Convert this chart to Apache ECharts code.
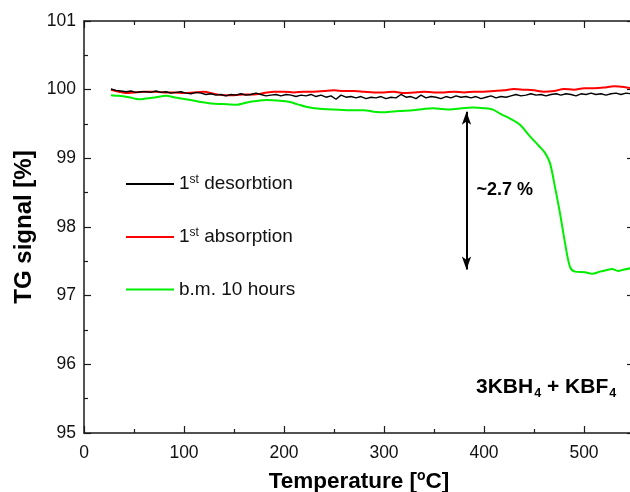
<!DOCTYPE html>
<html>
<head>
<meta charset="utf-8">
<script src="https://cdn.jsdelivr.net/npm/echarts@6/dist/echarts.min.js"></script>
<style>
  html, body { margin: 0; padding: 0; background: #fff; }
  #tg { width: 630px; height: 492px; }
</style>
</head>
<body>
<div id="tg"></div>
<script>
// ---- data ----
var xTicks = [0, 100, 200, 300, 400, 500];
var yTicks = [95, 96, 97, 98, 99, 100, 101];

var desorbT = [27, 32, 37, 42, 47, 52, 57, 62, 67, 72, 77, 82, 87, 92, 97, 102, 107, 112, 117, 122,
    127, 132, 137, 142, 147, 152, 157, 162, 167, 172, 177, 182, 187, 192, 197, 202, 207, 212, 217, 222,
    227, 232, 237, 242, 247, 252, 257, 262, 267, 272, 277, 282, 287, 292, 297, 302, 307, 312, 317, 322,
    327, 332, 337, 342, 347, 352, 357, 362, 367, 372, 377, 382, 387, 392, 397, 402, 407, 412, 417, 422,
    427, 432, 437, 442, 447, 452, 457, 462, 467, 472, 477, 482, 487, 492, 497, 502, 507, 512, 517, 522,
    527, 532, 537, 542, 547];
var desorbTG = [100.01, 99.99, 99.98, 99.97, 99.98, 99.96, 99.97, 99.97, 99.96, 99.98, 99.96, 99.97, 99.95, 99.96, 99.97, 99.95, 99.94, 99.96, 99.95, 99.93,
    99.94, 99.92, 99.93, 99.91, 99.93, 99.92, 99.94, 99.92, 99.93, 99.95, 99.93, 99.91, 99.92, 99.93, 99.91, 99.93, 99.92, 99.90, 99.92, 99.91,
    99.93, 99.90, 99.92, 99.89, 99.91, 99.86, 99.92, 99.89, 99.90, 99.88, 99.90, 99.87, 99.89, 99.88, 99.90, 99.87, 99.89, 99.88, 99.93, 99.89,
    99.90, 99.87, 99.92, 99.88, 99.90, 99.89, 99.87, 99.90, 99.88, 99.91, 99.89, 99.90, 99.88, 99.90, 99.87, 99.89, 99.91, 99.88, 99.90, 99.89,
    99.91, 99.93, 99.91, 99.92, 99.94, 99.92, 99.93, 99.91, 99.93, 99.94, 99.92, 99.94, 99.93, 99.91, 99.94, 99.93, 99.95, 99.93, 99.94, 99.92,
    99.94, 99.95, 99.93, 99.95, 99.94];

var absorbT = [27, 35, 42, 50, 60, 70, 80, 90, 100, 110, 120, 130, 140, 150, 160, 170, 180, 190, 200, 210,
    220, 230, 240, 250, 260, 270, 280, 290, 300, 310, 320, 330, 340, 350, 360, 370, 380, 390, 400, 410,
    420, 430, 440, 450, 460, 470, 480, 490, 500, 510, 520, 530, 540, 547];
var absorbTG = [100.00, 99.97, 99.95, 99.96, 99.97, 99.97, 99.96, 99.96, 99.95, 99.96, 99.97, 99.94, 99.92, 99.92, 99.93, 99.93, 99.95, 99.97, 99.97, 99.96,
    99.97, 99.97, 99.98, 99.99, 99.98, 99.98, 99.97, 99.96, 99.96, 99.97, 99.95, 99.96, 99.97, 99.96, 99.96, 99.97, 99.96, 99.97, 99.97, 99.98,
    99.99, 100.01, 100.00, 99.99, 99.97, 99.98, 100.01, 100.00, 100.02, 100.02, 100.03, 100.05, 100.04, 100.02];

var milledT = [27, 35, 45, 55, 62, 72, 82, 90, 97, 107, 117, 127, 139, 153, 162, 170, 183, 196, 206, 213,
    222, 230, 249, 266, 280, 290, 300, 315, 329, 340, 349, 358, 366, 378, 389, 400, 409, 416, 426, 436,
    446, 455, 461, 466, 471, 476, 481, 486, 491, 501, 508, 516, 522, 528, 534, 540, 547];
var milledTG = [99.92, 99.91, 99.89, 99.86, 99.87, 99.89, 99.91, 99.89, 99.87, 99.85, 99.82, 99.80, 99.79, 99.78, 99.81, 99.83, 99.85, 99.84, 99.82, 99.79,
    99.75, 99.73, 99.71, 99.70, 99.70, 99.68, 99.67, 99.69, 99.70, 99.72, 99.73, 99.72, 99.71, 99.73, 99.74, 99.73, 99.71, 99.65, 99.58, 99.49,
    99.32, 99.18, 99.08, 98.93, 98.58, 98.20, 97.77, 97.42, 97.35, 97.34, 97.32, 97.35, 97.37, 97.39, 97.36, 97.38, 97.40];

// mass-loss arrow (temperature, top, bottom) and its label
var arrowT = 382.5;
var arrowTop = 99.68;
var arrowBottom = 97.38;
var lossLabel = '~2.7 %';

function pairs(xs, ys) {
    return xs.map(function (x, i) { return [x, ys[i]]; });
}

var FONT = '"Liberation Sans", Arial, sans-serif';
var AX = '#1a1a1a';

// fresh tick/line settings for each axis (ticks point into the frame)
function frame(extra) {
    return Object.assign({
        axisLine: { show: true, onZero: false, lineStyle: { color: AX, width: 1.5 } },
        axisTick: { show: true, inside: true, length: 7, lineStyle: { color: AX, width: 1.2 } },
        minorTick: { show: true, splitNumber: 2, length: 4, lineStyle: { color: AX, width: 1.2 } },
        splitLine: { show: false },
        minorSplitLine: { show: false }
    }, extra);
}

var dom = document.getElementById('tg');
var myChart = echarts.init(dom, null, { renderer: 'canvas' });

var option = {
    backgroundColor: '#FFFFFF',
    animation: false,
    grid: { left: 84, top: 21, right: -4, bottom: 59, containLabel: false, outerBoundsMode: 'none' },
    legend: {
        orient: 'vertical',
        left: 126,
        top: 174,
        padding: 0,
        icon: 'rect',
        itemWidth: 48,
        itemHeight: 2,
        itemGap: 32,
        data: ['desorb', 'absorb', 'milled'],
        formatter: function (name) {
            if (name === 'desorb') return '{n|1}{s|st}{n| desorbtion}';
            if (name === 'absorb') return '{n|1}{s|st}{n| absorption}';
            return '{n|b.m. 10 hours}';
        },
        textStyle: {
            fontFamily: FONT,
            rich: {
                n: { fontSize: 19, fontFamily: FONT, color: '#111', lineHeight: 20 },
                s: { fontSize: 12, fontFamily: FONT, color: '#111', lineHeight: 20, verticalAlign: 'top', padding: [0, 0, 9, 0] }
            }
        }
    },
    xAxis: [
        frame({
            type: 'value',
            min: 0,
            max: 550,
            interval: 100,
            position: 'bottom',
            name: '{t|Temperature [}{s|o}{t|C]}',
            nameLocation: 'middle',
            nameGap: 36,
            nameTextStyle: {
                rich: {
                    t: { fontSize: 22.5, fontWeight: 'bold', fontFamily: FONT, color: '#000' },
                    s: { fontSize: 14, fontWeight: 'bold', fontFamily: FONT, color: '#000', verticalAlign: 'top', padding: [0, 0, 11, 0] }
                }
            },
            axisLabel: {
                fontSize: 17.5,
                fontFamily: FONT,
                color: '#111',
                margin: 11,
                formatter: function (v) { return xTicks.indexOf(v) >= 0 ? String(v) : ''; }
            }
        }),
        frame({
            type: 'value',
            min: 0,
            max: 550,
            interval: 100,
            position: 'top',
            axisLabel: { show: false }
        })
    ],
    yAxis: [
        frame({
            type: 'value',
            min: 95,
            max: 101,
            interval: 1,
            position: 'left',
            name: 'TG signal [%]',
            nameLocation: 'middle',
            nameGap: 48,
            nameTextStyle: { fontSize: 24, fontWeight: 'bold', fontFamily: FONT, color: '#000' },
            axisLabel: {
                fontSize: 17.5,
                fontFamily: FONT,
                color: '#111',
                margin: 8,
                formatter: function (v) { return yTicks.indexOf(v) >= 0 ? String(v) : ''; }
            }
        }),
        frame({
            type: 'value',
            min: 95,
            max: 101,
            interval: 1,
            position: 'right',
            axisLabel: { show: false }
        })
    ],
    graphic: [{
        type: 'text',
        left: 476,
        top: 377,
        style: {
            text: '{b|3KBH}{u|4}{b| + KBF}{u|4}',
            rich: {
                b: { fontSize: 21, fontWeight: 'bold', fontFamily: FONT, fill: '#000', lineHeight: 25 },
                u: { fontSize: 12.5, fontWeight: 'bold', fontFamily: FONT, fill: '#000', verticalAlign: 'bottom', padding: [12, 0, 0, 1] }
            }
        }
    }],
    series: [
        {
            name: 'desorb',
            type: 'line',
            data: pairs(desorbT, desorbTG),
            symbol: 'none',
            showSymbol: false,
            lineStyle: { color: '#000000', width: 1.4 },
            itemStyle: { color: '#000000' },
            z: 3
        },
        {
            name: 'absorb',
            type: 'line',
            data: pairs(absorbT, absorbTG),
            symbol: 'none',
            showSymbol: false,
            smooth: 0.3,
            lineStyle: { color: '#ff0000', width: 2 },
            itemStyle: { color: '#ff0000' },
            z: 2
        },
        {
            name: 'milled',
            type: 'line',
            data: pairs(milledT, milledTG),
            symbol: 'none',
            showSymbol: false,
            smooth: 0.3,
            lineStyle: { color: '#00ee00', width: 2 },
            itemStyle: { color: '#00ee00' },
            z: 2,
            markLine: {
                silent: true,
                symbol: ['arrow', 'arrow'],
                symbolSize: [7, 13],
                label: { show: false },
                lineStyle: { color: '#000', width: 2, type: 'solid' },
                data: [[{ coord: [arrowT, arrowTop] }, { coord: [arrowT, arrowBottom] }]]
            },
            markPoint: {
                silent: true,
                symbol: 'circle',
                symbolSize: 0,
                data: [{ coord: [arrowT + 10, 98.54] }],
                label: {
                    show: true,
                    position: 'right',
                    distance: 0,
                    formatter: lossLabel,
                    fontSize: 18,
                    fontWeight: 'bold',
                    fontFamily: FONT,
                    color: '#000'
                }
            }
        }
    ]
};

if (option && typeof option === 'object') {
    myChart.setOption(option);
}
</script>
</body>
</html>
